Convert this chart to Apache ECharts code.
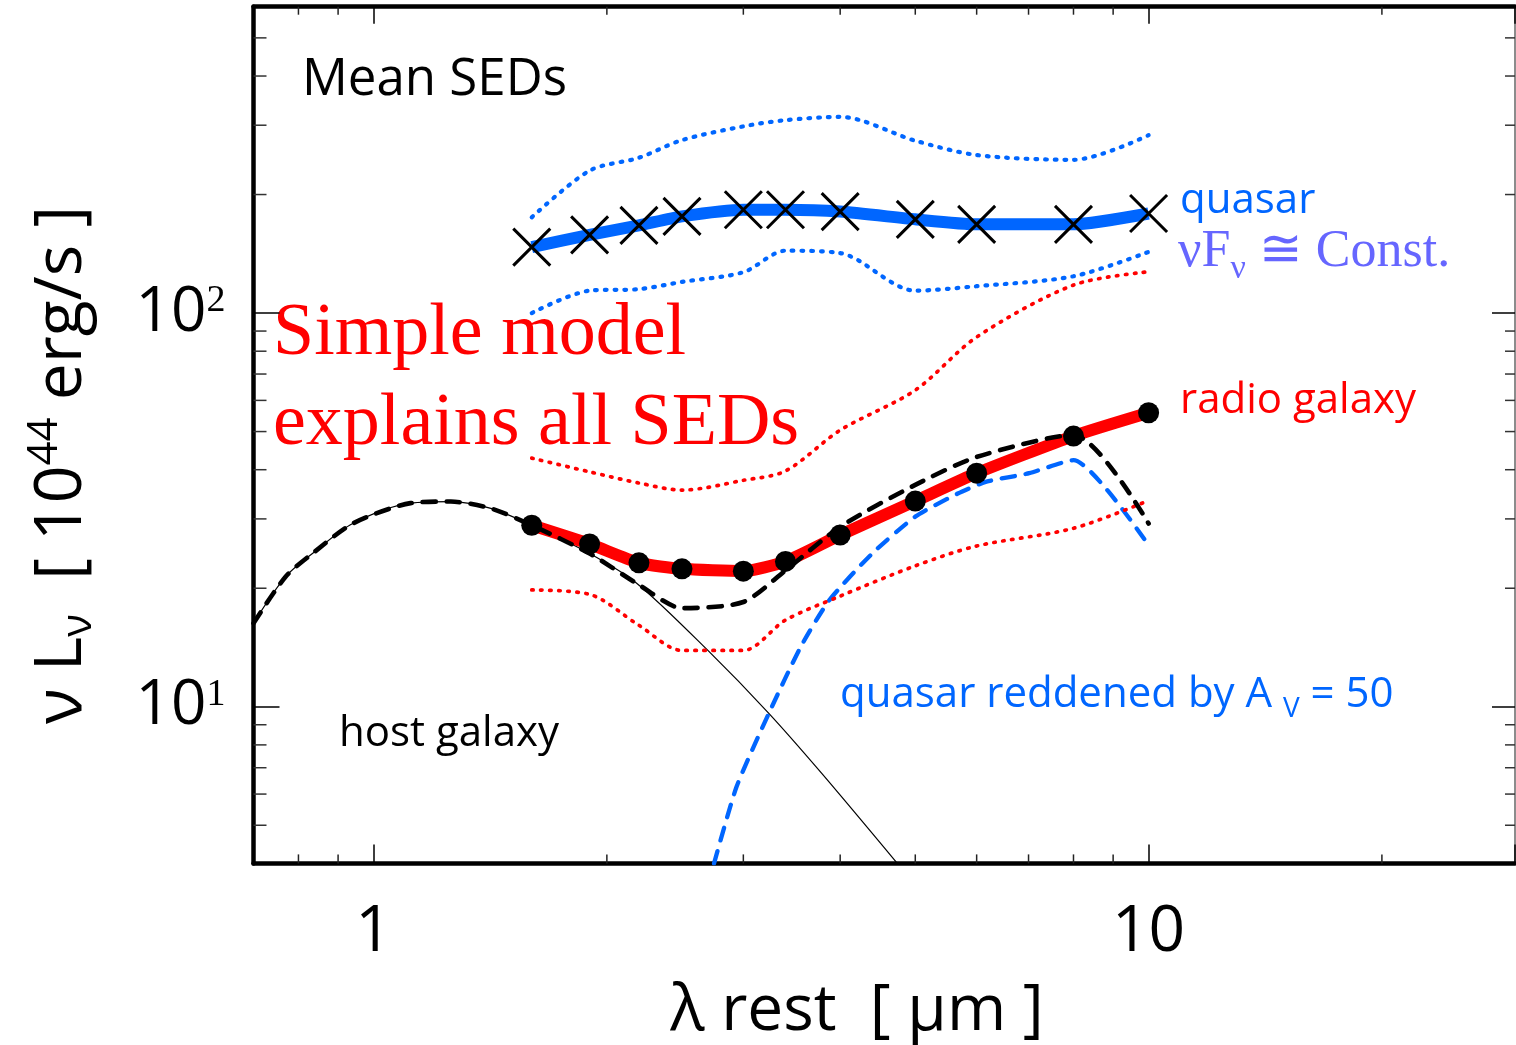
<!DOCTYPE html>
<html><head><meta charset="utf-8">
<script src="https://cdn.jsdelivr.net/npm/echarts@6/dist/echarts.min.js"></script>
<style>html,body{margin:0;padding:0;background:#fff}#c{width:1516px;height:1045px}</style>
</head><body><div id="c"></div>
<script>
// ---------------- data ----------------
const lam = [1.6, 1.9, 2.2, 2.5, 3.0, 3.4, 4.0, 5.0, 6.0, 8.0, 10.0];
const quasarMean  = [147, 158, 167, 176, 183, 183, 181, 173, 168, 168, 179];
const quasarUpper = [175, 230, 248, 275, 298, 309, 315, 274, 252, 245, 283];
const quasarLower = [100, 114, 115, 120, 127, 144, 142, 114, 117, 124, 143];
const radioMean   = [28.9, 25.9, 23.2, 22.4, 22.1, 23.4, 27.3, 33.3, 39.2, 48.7, 55.8];
const radioUpper  = [42.8, 39.5, 37.0, 35.5, 37.6, 39.7, 50.4, 63.7, 86.9, 117.8, 127.3];
const radioLower  = [19.8, 19.3, 16.1, 13.9, 13.9, 16.6, 19.1, 22.8, 25.6, 28.4, 33.4];

const hostLam = [0.70, 0.77, 0.834, 0.94, 1.116, 1.258, 1.417, 1.6, 1.9, 2.185, 2.7, 3.236, 3.787, 4.74];
const hostL   = [16.3, 21.4, 24.5, 29.2, 32.9, 33.2, 31.9, 28.9, 24.5, 20.6, 13.9, 9.62, 6.77, 4.0];

const totalLam = [0.70, 0.77, 0.834, 0.94, 1.116, 1.258, 1.417, 1.6, 1.9, 2.2, 2.5, 3.0, 3.4, 4.0, 5.0, 6.0, 8.0, 10.0];
const totalL   = [16.3, 21.4, 24.5, 29.2, 32.9, 33.2, 31.9, 28.9, 24.5, 20.4, 17.8, 18.45, 22.2, 28.65, 36.6, 43.1, 49.0, 29.2];

const reddenedLam = [2.75, 2.94, 3.236, 3.558, 3.874, 4.399, 5.0, 5.673, 6.177, 7.015, 8.0, 10.0];
const reddenedL   = [4.0, 6.26, 9.62, 14.2, 18.66, 24.5, 30.4, 34.8, 37.3, 39.2, 42.3, 25.7];

const xMinorTicks = [0.8, 0.9, 2, 3, 4, 5, 6, 7, 8, 9, 20];
const yMinorTicks = [5, 6, 7, 8, 9, 20, 30, 40, 50, 60, 70, 80, 90, 200, 300, 400, 500];
const X_MIN = 0.7, X_MAX = 29.7, Y_MIN = 4, Y_MAX = 600;

// ---------------- styling ----------------
const sans = "'Open Sans', 'Noto Sans', sans-serif";
const serif = "'Liberation Serif', 'Times New Roman', serif";
const BLUE = '#0066ff', RED = '#ff0000', LAV = '#6666ff';

const pair = (xs, ys) => xs.map((x, i) => [x, ys[i]]);
const isPow10 = v => { const e = Math.log10(v); return Math.abs(e - Math.round(e)) < 1e-6; };

const chart = echarts.init(document.getElementById('c'), null, {renderer: 'canvas'});

function minorX(p, api) {
  const v = api.value(0);
  const b = api.coord([v, Y_MIN]), t = api.coord([v, Y_MAX]);
  const st = {stroke: '#222', lineWidth: 1.5};
  return {type: 'group', children: [
    {type: 'line', shape: {x1: b[0], y1: b[1], x2: b[0], y2: b[1] - 9}, style: st},
    {type: 'line', shape: {x1: t[0], y1: t[1], x2: t[0], y2: t[1] + 8}, style: st}
  ]};
}
function minorY(p, api) {
  const v = api.value(1);
  const l = api.coord([X_MIN, v]), r = api.coord([X_MAX, v]);
  const st = {stroke: '#333', lineWidth: 1.5};
  return {type: 'group', children: [
    {type: 'line', shape: {x1: l[0], y1: l[1], x2: l[0] + 13, y2: l[1]}, style: st},
    {type: 'line', shape: {x1: r[0], y1: r[1], x2: r[0] - 10, y2: r[1]}, style: st}
  ]};
}

const baseX = {
  type: 'log', logBase: 10, min: X_MIN, max: X_MAX,
  splitLine: {show: false}, minorTick: {show: false}, minorSplitLine: {show: false}
};
const baseY = {
  type: 'log', logBase: 10, min: Y_MIN, max: Y_MAX,
  splitLine: {show: false}, minorTick: {show: false}, minorSplitLine: {show: false}
};

const option = {
  animation: false,
  backgroundColor: '#fff',
  grid: {left: 253.5, right: 1, top: 6.7, bottom: 181.6, containLabel: false, outerBoundsMode: 'none'},
  xAxis: [
    Object.assign({}, baseX, {
      position: 'bottom',
      axisLine: {show: true, onZero: false, lineStyle: {color: '#000', width: 4.5}},
      axisTick: {show: true, inside: true, length: 19, lineStyle: {color: '#000', width: 1.5}},
      axisLabel: {show: true, margin: 37, color: '#000', fontSize: 64, fontFamily: sans,
        formatter: v => isPow10(v) ? String(Math.round(v)) : ''}
    }),
    Object.assign({}, baseX, {
      position: 'top',
      axisLine: {show: true, onZero: false, lineStyle: {color: '#000', width: 4.5}},
      axisTick: {show: true, inside: true, length: 17, lineStyle: {color: '#000', width: 1.5}},
      axisLabel: {show: false}
    })
  ],
  yAxis: [
    Object.assign({}, baseY, {
      position: 'left',
      axisLine: {show: true, onZero: false, lineStyle: {color: '#000', width: 4.5}},
      axisTick: {show: true, inside: true, length: 26, lineStyle: {color: '#000', width: 1.5}},
      axisLabel: {show: true, margin: 28,
        formatter: v => isPow10(v) ? '{b|10}{s|' + Math.round(Math.log10(v)) + '}' : '',
        rich: {
          b: {fontSize: 62, fontFamily: sans, color: '#000', lineHeight: 62},
          s: {fontSize: 38, fontFamily: serif, color: '#000', verticalAlign: 'top', lineHeight: 38}
        }}
    }),
    Object.assign({}, baseY, {
      position: 'right',
      axisLine: {show: true, onZero: false, lineStyle: {color: '#666', width: 1.5}},
      axisTick: {show: true, inside: true, length: 23, lineStyle: {color: '#000', width: 1.5}},
      axisLabel: {show: false}
    })
  ],
  series: [
    {type: 'custom', name: 'xminor', silent: true, z: 1, renderItem: minorX,
      data: xMinorTicks.map(v => [v, Y_MIN])},
    {type: 'custom', name: 'yminor', silent: true, z: 1, renderItem: minorY,
      data: yMinorTicks.map(v => [X_MIN, v])},
    {type: 'line', name: 'host galaxy', z: 2, data: pair(hostLam, hostL), smooth: 0.3,
      showSymbol: false, symbol: 'none', lineStyle: {color: '#000', width: 1.2, opacity: 1}},
    {type: 'line', name: 'quasar reddened', z: 3, data: pair(reddenedLam, reddenedL), smooth: 0.2,
      showSymbol: false, symbol: 'none', lineStyle: {color: BLUE, width: 4.3, type: [13, 11], cap: 'round', opacity: 1}},
    {type: 'line', name: 'radio upper', z: 4, data: pair(lam, radioUpper), smooth: 0.3,
      showSymbol: false, symbol: 'none', lineStyle: {color: RED, width: 3.7, type: [1.5, 7.5], cap: 'round', opacity: 1}},
    {type: 'line', name: 'radio lower', z: 4, data: pair(lam, radioLower), smooth: 0.3,
      showSymbol: false, symbol: 'none', lineStyle: {color: RED, width: 3.7, type: [1.5, 7.5], cap: 'round', opacity: 1}},
    {type: 'line', name: 'quasar upper', z: 4, data: pair(lam, quasarUpper), smooth: 0.3,
      showSymbol: false, symbol: 'none', lineStyle: {color: BLUE, width: 4.2, type: [1.7, 8], cap: 'round', opacity: 1}},
    {type: 'line', name: 'quasar lower', z: 4, data: pair(lam, quasarLower), smooth: 0.3,
      showSymbol: false, symbol: 'none', lineStyle: {color: BLUE, width: 4.2, type: [1.7, 8], cap: 'round', opacity: 1}},
    {type: 'line', name: 'radio galaxy', z: 5, data: pair(lam, radioMean), smooth: 0.2,
      showSymbol: false, symbol: 'none', lineStyle: {color: RED, width: 12, join: 'round', opacity: 1}},
    {type: 'line', name: 'model total', z: 6, data: pair(totalLam, totalL), smooth: 0.25,
      showSymbol: false, symbol: 'none', lineStyle: {color: '#000', width: 4.6, type: [13, 11], cap: 'round', opacity: 1}},
    {type: 'scatter', name: 'radio points', z: 7, data: pair(lam, radioMean), symbol: 'circle', symbolSize: 21,
      itemStyle: {color: '#000', opacity: 1}},
    {type: 'line', name: 'quasar', z: 8, data: pair(lam, quasarMean), smooth: 0.2,
      showSymbol: false, symbol: 'none', lineStyle: {color: BLUE, width: 12, join: 'round', opacity: 1}},
    {type: 'scatter', name: 'quasar points', z: 9, data: pair(lam, quasarMean),
      symbol: 'path://M0,0L10,10M10,0L0,10', symbolSize: 37,
      itemStyle: {color: 'rgba(0,0,0,0)', borderColor: '#000', borderWidth: 3, opacity: 1}}
  ],
  graphic: [
    {type: 'text', x: 302, y: 80, silent: true, style: {text: 'Mean SEDs', fontSize: 51, fontFamily: sans, fill: '#000', align: 'left', verticalAlign: 'middle'}},
    {type: 'text', x: 273, y: 335, silent: true, style: {text: 'Simple model', fontSize: 74, fontFamily: serif, fill: RED, align: 'left', verticalAlign: 'middle'}},
    {type: 'text', x: 273, y: 425, silent: true, style: {text: 'explains all SEDs', fontSize: 74, fontFamily: serif, fill: RED, align: 'left', verticalAlign: 'middle'}},
    {type: 'text', x: 1180, y: 201, silent: true, style: {text: 'quasar', fontSize: 42, fontFamily: sans, fill: BLUE, align: 'left', verticalAlign: 'middle'}},
    {type: 'text', x: 1178, y: 252, silent: true, style: {
      text: '{b|νF}{s|ν}{b| ≅ Const.}', align: 'left', verticalAlign: 'middle',
      rich: {
        b: {fontSize: 52, fontFamily: serif, fill: LAV, lineHeight: 68},
        s: {fontSize: 34, fontFamily: serif, fill: LAV, lineHeight: 18, verticalAlign: 'bottom'}
      }}},
    {type: 'text', x: 1180, y: 401, silent: true, style: {text: 'radio galaxy', fontSize: 42, fontFamily: sans, fill: RED, align: 'left', verticalAlign: 'middle'}},
    {type: 'text', x: 840, y: 695, silent: true, style: {
      text: '{b|quasar reddened by A }{s|V}{b| = 50}', align: 'left', verticalAlign: 'middle',
      rich: {
        b: {fontSize: 42, fontFamily: sans, fill: BLUE, lineHeight: 56},
        s: {fontSize: 28, fontFamily: sans, fill: BLUE, lineHeight: 13, verticalAlign: 'bottom'}
      }}},
    {type: 'text', x: 339, y: 734, silent: true, style: {text: 'host galaxy', fontSize: 42, fontFamily: sans, fill: '#000', align: 'left', verticalAlign: 'middle'}},
    {type: 'text', x: 857, y: 1012, silent: true, style: {text: 'λ rest  [ μm ]', fontSize: 64, fontFamily: sans, fill: '#000', align: 'center', verticalAlign: 'middle'}},
    {type: 'text', x: 62, y: 465, rotation: Math.PI / 2, silent: true, style: {
      text: '{b|ν L}{s|ν}{b|  [ 10}{p|44}{b| erg/s ]}', align: 'center', verticalAlign: 'middle',
      rich: {
        b: {fontSize: 66, fontFamily: sans, fill: '#000', lineHeight: 76},
        s: {fontSize: 42, fontFamily: sans, fill: '#000', lineHeight: 38, verticalAlign: 'bottom'},
        p: {fontSize: 42, fontFamily: sans, fill: '#000', lineHeight: 22, verticalAlign: 'top'}
      }}}
  ]
};
chart.setOption(option);
</script>
</body></html>
